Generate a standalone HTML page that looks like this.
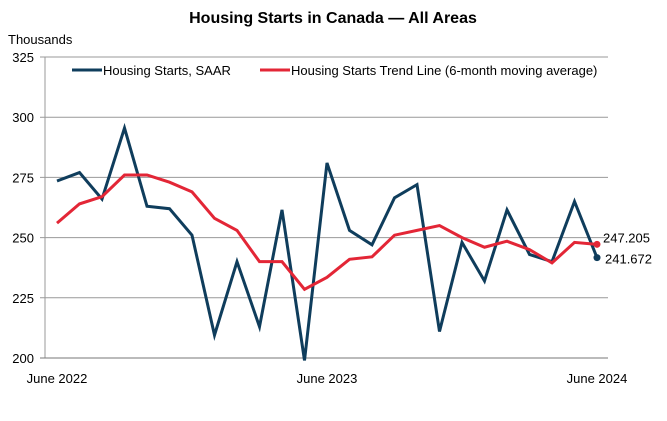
<!DOCTYPE html>
<html><head><meta charset="utf-8"><style>
body{margin:0;background:#fff;width:667px;height:416px;overflow:hidden;font-family:"Liberation Sans",sans-serif}
text{font-family:"Liberation Sans",sans-serif}
</style></head><body>
<svg id="chart" width="667" height="416">
<text x="333" y="23" text-anchor="middle" font-size="16" font-weight="bold" fill="#000">Housing Starts in Canada — All Areas</text>
<text x="8" y="44" font-size="13" fill="#000">Thousands</text>
<g id="grid"></g><g id="series"></g>
<g>
<line x1="72" y1="70" x2="102" y2="70" stroke="#0f3d5c" stroke-width="3"/>
<text x="103" y="75" font-size="13" fill="#000">Housing Starts, SAAR</text>
<line x1="260" y1="70" x2="290" y2="70" stroke="#e32636" stroke-width="3"/>
<text x="291" y="75" font-size="13" fill="#000">Housing Starts Trend Line (6-month moving average)</text>
</g>
</svg>
<script>
const yTicks=[200,225,250,275,300,325];
const xLabels=["June 2022","June 2023","June 2024"];
const xLabelIdx=[0,12,24];
const saar=[273.5,277,266,295.5,263,262,251,209.5,240,213,261.5,199,281,253,247,266.5,272,211,248,232,261.5,243,240,265,241.672];
const trend=[256,264,267,276,276,273,269,258,253,240,240,228.5,233.5,241,242,251,253,255,250,246,248.5,245,239.5,248,247.205];
const ns="http://www.w3.org/2000/svg";
const X=i=>57+i*22.5, Y=v=>358-(v-200)*2.408;
function mk(t,a,p){const e=document.createElementNS(ns,t);for(const k in a)e.setAttribute(k,a[k]);p.appendChild(e);return e;}
const g=document.getElementById('grid'),s=document.getElementById('series');
mk('line',{x1:45,y1:57,x2:45,y2:358,stroke:'#999','stroke-width':1},g);
yTicks.forEach(v=>{
 const l=mk('line',{x1:40,y1:Y(v),x2:608,y2:Y(v),stroke:v===200?'#777':'#999','stroke-width':1},g);
 
 
 const t=mk('text',{x:34,y:Y(v)+5,'text-anchor':'end','font-size':13,fill:'#000'},g);t.textContent=v;
 
 
});
xLabels.forEach((lab,k)=>{
 const t=mk('text',{x:X(xLabelIdx[k]),y:383,'text-anchor':'middle','font-size':13,fill:'#000'},g);t.textContent=lab;
 
 
});
const pl=(d,c,n)=>{const p=mk('polyline',{points:d.map((v,i)=>X(i)+','+Y(v)).join(' '),fill:'none',stroke:c,'stroke-width':3,'stroke-linejoin':'miter'},s);
 
 };
pl(saar,'#0f3d5c','saar-line');
pl(trend,'#e32636','trend-line');
const L=saar.length-1;
const c1=mk('circle',{cx:X(L),cy:Y(saar[L]),r:3.5,fill:'#0f3d5c'},s);


const c2=mk('circle',{cx:X(L),cy:Y(trend[L]),r:3.5,fill:'#e32636'},s);


const t1=mk('text',{x:603,y:Y(trend[L])-2,'font-size':13,fill:'#000'},s);t1.textContent=trend[L].toFixed(3);


const t2=mk('text',{x:605,y:Y(saar[L])+6,'font-size':13,fill:'#000'},s);t2.textContent=saar[L].toFixed(3);


</script>
</body></html>
